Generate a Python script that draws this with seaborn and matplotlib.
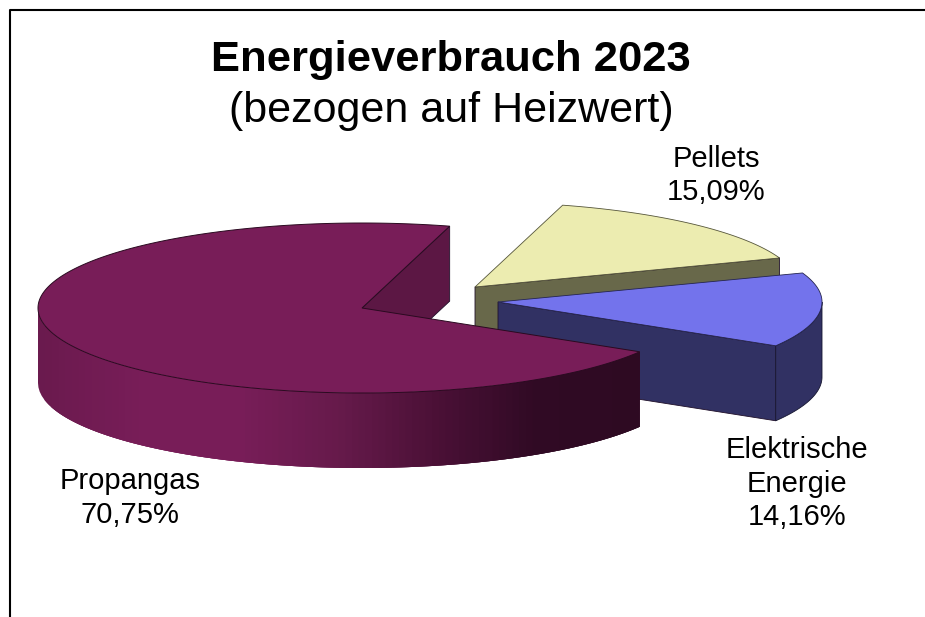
import numpy as np
import matplotlib
matplotlib.use('Agg')
import matplotlib.pyplot as plt
import seaborn as sns

# Data
categories = ['Propangas', 'Elektrische\nEnergie', 'Pellets']
shares = [70.75, 14.16, 15.09]
share_labels = ['70,75%', '14,16%', '15,09%']
top_colors = ['#781D58', '#7373EC', '#ECECB0']
side_colors = ['#5C1744', '#313163', '#68684A']
gas_side_anchors = ['#6A1A4E', '#781D58', '#781D58', '#661A4B', '#4A1036', '#300A24', '#2E0A22']

sns.set_theme(style='white')
plt.rcParams['font.family'] = ['Liberation Sans', 'DejaVu Sans']

# pie geometry in pixels
a, b, depth = 324, 85, 75
centers = [(362, 308), (498, 302), (475, 287)]
start_deg = 74.3


def arc(cx, cy, t0, t1, n=120):
    t = np.radians(np.linspace(t0, t1, n))
    return cx + a * np.cos(t), cy - b * np.sin(t)


def draw_wall(cx, cy, t, color, z):
    # straight cut wall from the centre to the rim
    x, y = arc(cx, cy, t, t, 1)
    ax.fill([cx, x[0], x[0], cx], [cy, y[0], y[0] + depth, cy + depth],
            color=color, ec='#20102a', lw=0.6, zorder=z)


fig, ax = plt.subplots(figsize=(9.25, 6.17), dpi=100)
ax.set_position([0, 0, 1, 1])
ax.set_xlim(0, 925)
ax.set_ylim(617, 0)
ax.axis('off')

# slice angles, propane runs counter clockwise from the start angle
sweeps = np.array(shares) / sum(shares) * 360
gas0, gas1 = start_deg, start_deg + sweeps[0]
el0, el1 = gas1, gas1 + sweeps[1]
pel0, pel1 = el1, el1 + sweeps[2]

# Pellets
cx, cy = centers[2]
draw_wall(cx, cy, pel0, side_colors[2], 1)
x, y = arc(cx, cy, pel0, pel1)
ax.fill(np.r_[cx, x], np.r_[cy, y], color=top_colors[2], ec='#55553a', lw=0.6, zorder=2)

# Elektrische Energie
cx, cy = centers[1]
draw_wall(cx, cy, el0, side_colors[1], 3)
x, y = arc(cx, cy, el0, 360)
ax.fill(np.r_[x, x[::-1]], np.r_[y, y[::-1] + depth], color=side_colors[1],
        ec='#15152f', lw=0.6, zorder=3)
x, y = arc(cx, cy, el0, el1)
ax.fill(np.r_[cx, x], np.r_[cy, y], color=top_colors[1], ec='#25254f', lw=0.6, zorder=5)

# Propangas
cx, cy = centers[0]
draw_wall(cx, cy, gas0, side_colors[0], 6)
gas_side = sns.blend_palette(gas_side_anchors, n_colors=90)
# strips evenly spaced along x, like the horizontal shading of the wall
xs = np.linspace(-a, a * np.cos(np.radians(gas1)), len(gas_side) + 1)
ts = 360 - np.degrees(np.arccos(xs / a))
for i, c in enumerate(gas_side):
    # each strip runs on under the next one so no seams show
    end = ts[min(i + 3, len(gas_side))]
    x, y = arc(cx, cy, ts[i], end, 8)
    ax.fill(np.r_[x, x[::-1]], np.r_[y, y[::-1] + depth], color=c, lw=0, zorder=7)
x, y = arc(cx, cy, gas0, gas1, 300)
ax.fill(np.r_[cx, x], np.r_[cy, y], color=top_colors[0], ec='#2a0a20', lw=0.7, zorder=8)

# frame
ax.plot([925, 9.5, 9.5], [10, 10, 617], color='black', lw=1.5, zorder=9)

# title and labels
ax.text(451, 71, 'Energieverbrauch 2023', ha='center', va='baseline',
        fontsize=31.3, fontweight='bold', color='black')
ax.text(451, 122, '(bezogen auf Heizwert)', ha='center', va='baseline',
        fontsize=31, color='black')
label_pos = [(130, 498), (797, 483.5), (716, 175.5)]
for name, lab, (lx, ly) in zip(categories, share_labels, label_pos):
    ax.text(lx, ly, name + '\n' + lab, ha='center', va='center',
            fontsize=21, color='black', linespacing=1.27)

fig.savefig('out.png', dpi=100)
